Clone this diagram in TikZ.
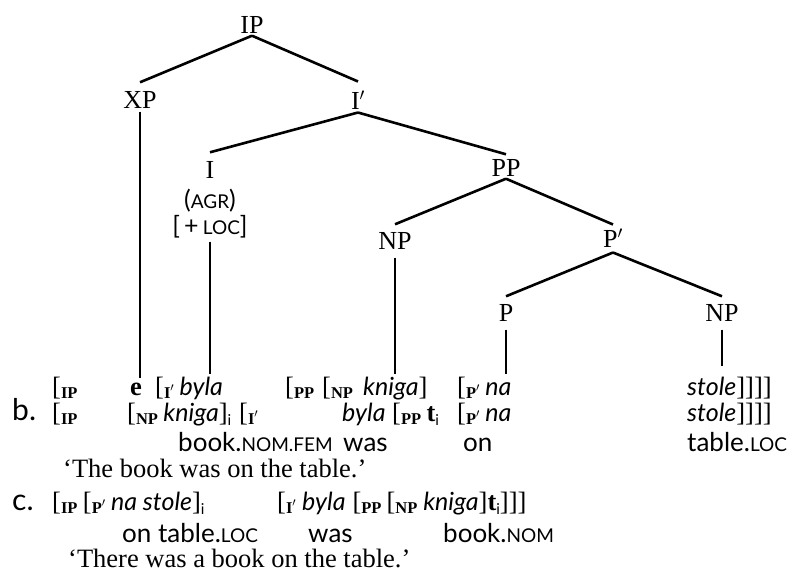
\documentclass[tikz,border=0pt]{standalone}
\usepackage{fontspec}
\setmainfont{Liberation Serif}
\newfontfamily\opt{Lato}
% subscript category labels: small bold caps, lowered
\newcommand\lab[1]{\raisebox{-3pt}{\fontsize{16.5}{16.5}\selectfont\bfseries #1}\kern1pt}
% small capitals for glosses
\newcommand\scp[1]{{\fontsize{19}{19}\selectfont #1}}
% italic object-language words
\newcommand\ol[1]{{\opt\itshape\fontsize{25}{30}\selectfont #1}}
% index subscript
\newcommand\ix{\raisebox{-4pt}{\fontsize{15}{15}\selectfont\opt i}}
\begin{document}
\begin{tikzpicture}[x=1pt,y=-1pt,
  cat/.style={inner sep=0pt,font=\fontsize{26}{30}\selectfont},
  feat/.style={inner sep=0pt,font=\opt\fontsize{25}{28}\selectfont},
  row/.style={anchor=base west,inner sep=0pt,font=\fontsize{26.5}{30}\selectfont},
  gl/.style={anchor=base west,inner sep=0pt,font=\opt\fontsize{26}{30}\selectfont},
  exlab/.style={anchor=base west,inner sep=0pt,font=\opt\fontsize{30}{34}\selectfont},
  branch/.style={line width=2.6pt},
  stem/.style={line width=2.6pt}]
\useasboundingbox (0,0) rectangle (795,574);

% ---- tree labels ----
\node[cat] (IP)  at (252,25)  {IP};
\node[cat] (XP)  at (140,100) {XP};
\node[cat] (Ib)  at (358,100) {I$'$};
\node[cat] (I)   at (210,170) {I};
\node[feat] (agr) at (210,201) {(\scp{AGR})};
\node[feat] (loc) at (210,227) {[\,+\,\scp{LOC}]};
\node[cat] (PP)  at (506,168) {PP};
\node[cat] (NP)  at (395,241) {NP};
\node[cat] (Pb)  at (613,238) {P$'$};
\node[cat] (P)   at (506,313) {P};
\node[cat] (NPb) at (722,313) {NP};

% ---- branches ----
\draw[branch] ([yshift=-2pt]IP.south)  -- ([yshift=9pt]XP.north);
\draw[branch] ([yshift=-2pt]IP.south)  -- ([yshift=9pt]Ib.north);
\draw[branch] ([yshift=-3pt]Ib.south)  -- ([yshift=9pt]I.north);
\draw[branch] ([yshift=-3pt]Ib.south)  -- ([yshift=5pt]PP.north);
\draw[branch] ([yshift=-2pt]PP.south)  -- ([yshift=8pt]NP.north);
\draw[branch] ([yshift=-2pt]PP.south)  -- ([yshift=4pt]Pb.north);
\draw[branch] ([yshift=-5pt]Pb.south)  -- ([yshift=8pt]P.north);
\draw[branch] ([yshift=-5pt]Pb.south)  -- ([yshift=8pt]NPb.north);

% ---- example a (unlabelled) ----
\node[row] (a1) at (52,395)  {[\lab{IP}};
\node[row] (a2) at (130,395) {\textbf{e}};
\node[row] (a3) at (155,395) {[\lab{I$'$}\,\ol{byla}};
\node[row] (a4) at (285,395) {[\lab{PP}};
\node[row] (a5) at (322,395) {[\lab{NP}};
\node[row] (a6) at (363,395) {\ol{kniga}]};
\node[row] (a7) at (457,395) {[\lab{P$'$}\,\ol{na}};
\node[row] (a8) at (687,395) {\ol{stole}]]]]};

% ---- stems down to the string ----
\draw[stem] ([yshift=-3pt]XP.south)  -- ([yshift=4pt]XP.south |- a2.north);
\draw[stem] ([yshift=-3pt]loc.south) -- ([yshift=2pt]loc.south |- a3.north);
\draw[stem] ([yshift=-8pt]NP.south)  -- ([yshift=2pt]NP.south |- a6.north);
\draw[stem] ([yshift=-8pt]P.south)   -- ([yshift=2pt]P.south |- a7.north);
\draw[stem] ([yshift=-8pt]NPb.south) -- ([yshift=10pt]NPb.south |- a8.north);

% ---- example b ----
\node[exlab] (bl) at (12,420) {b.};
\node[row] (b1) at (52,421)  {[\lab{IP}};
\node[row] (b2) at (127,421) {[\lab{NP}\,\ol{kniga}]\ix};
\node[row] (b3) at (239,421) {[\lab{I$'$}};
\node[row] (b4) at (342,421) {\ol{byla}};
\node[row] (b5) at (392,421) {[\lab{PP}\,\textbf{t}\ix};
\node[row] (b6) at (457,421) {[\lab{P$'$}\,\ol{na}};
\node[row] (b7) at (687,421) {\ol{stole}]]]]};

\node[gl] (g1) at (178,451) {book.\scp{NOM.FEM}};
\node[gl] (g2) at (343,451) {was};
\node[gl] (g3) at (463,451) {on};
\node[gl] (g4) at (687,451) {table.\scp{LOC}};

\node[row] (tb) at (63,477) {‘The book was on the table.’};

% ---- example c ----
\node[exlab] (cl) at (12,510) {c.};
\node[row] (c1) at (52,510)  {[\lab{IP}\,[\lab{P$'$}\,\ol{na stole}]\ix};
\node[row] (c2) at (277,510) {[\lab{I$'$}\hspace{5pt}\ol{byla}\hspace{7pt}[\lab{PP}\hspace{4pt}[\lab{NP}\hspace{5pt}\ol{kniga}]\textbf{t}\ix]]]};

\node[gl] (h1) at (122,542) {on table.\scp{LOC}};
\node[gl] (h2) at (308,542) {was};
\node[gl] (h3) at (443,542) {book.\scp{NOM}};

\node[row] (tc) at (68,567) {‘There was a book on the table.’};
\end{tikzpicture}
\end{document}
